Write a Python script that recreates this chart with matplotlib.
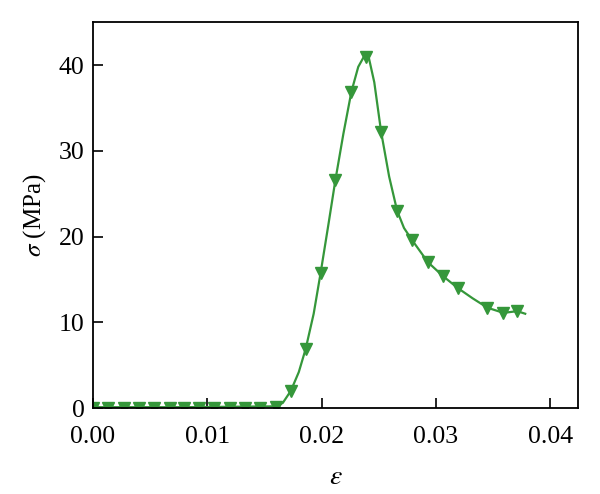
import matplotlib
matplotlib.use("Agg")
import matplotlib.pyplot as plt

# marker points
strain_marks = [0.0, 0.0013, 0.0027, 0.0040, 0.0053, 0.0067, 0.0080, 0.0093,
                0.0106, 0.0120, 0.0133, 0.0146, 0.0160,
                0.0173, 0.0186, 0.0199, 0.0212, 0.0226, 0.0239, 0.0252,
                0.0266, 0.0279, 0.0293, 0.0306, 0.0319, 0.0345, 0.0359, 0.0371]
stress_marks = [0.0, 0.0, 0.0, 0.0, 0.0, 0.0, 0.0, 0.0,
                0.0, 0.0, 0.0, 0.0, 0.1,
                2.0, 6.9, 15.7, 26.6, 36.9, 40.9, 32.2,
                23.0, 19.6, 17.0, 15.4, 14.0, 11.7, 11.1, 11.3]

# line points
strain_line = [0.0, 0.0080, 0.0160, 0.0166, 0.0173, 0.0180, 0.0186, 0.0193,
               0.0199, 0.0206, 0.0212, 0.0219, 0.0226, 0.0232, 0.0237, 0.0241,
               0.0246, 0.0252, 0.0259, 0.0266, 0.0272, 0.0279, 0.0293, 0.0306,
               0.0319, 0.0332, 0.0345, 0.0359, 0.0371, 0.0378]
stress_line = [0.1, 0.1, 0.2, 0.6, 2.0, 4.2, 6.9, 11.0,
               15.7, 21.5, 26.6, 32.0, 36.9, 39.8, 41.0, 41.0,
               38.0, 32.2, 27.0, 23.0, 21.0, 19.6, 17.0, 15.4,
               14.0, 12.8, 11.7, 11.1, 11.3, 11.0]

green = "#35973a"

plt.rcParams["font.family"] = "Liberation Serif"
plt.rcParams["mathtext.fontset"] = "stix"

fig = plt.figure(figsize=(6, 4.94), dpi=100)
ax = fig.add_axes([0.155, 0.174, 0.808, 0.781])

ax.plot(strain_line, stress_line, color=green, linewidth=1.6)
ax.plot(strain_marks, stress_marks, linestyle="none", marker="v",
        markersize=8, color=green)

ax.set_xlim(0, 0.0424)
ax.set_ylim(0, 45)
ax.set_xticks([0.0, 0.01, 0.02, 0.03, 0.04])
ax.set_xticklabels(["0.00", "0.01", "0.02", "0.03", "0.04"])
ax.set_yticks([0, 10, 20, 30, 40])

ax.tick_params(direction="in", length=7, width=1.2, labelsize=18.5,
               top=False, right=False)
ax.tick_params(axis="x", pad=13)
ax.tick_params(axis="y", pad=6)
for s in ax.spines.values():
    s.set_linewidth(1.3)

ax.set_xlabel(r"$\varepsilon$", fontsize=20, labelpad=12)
ax.set_ylabel(r"$\sigma$ (MPa)", fontsize=18, labelpad=8)

fig.savefig("out.png", dpi=100)
